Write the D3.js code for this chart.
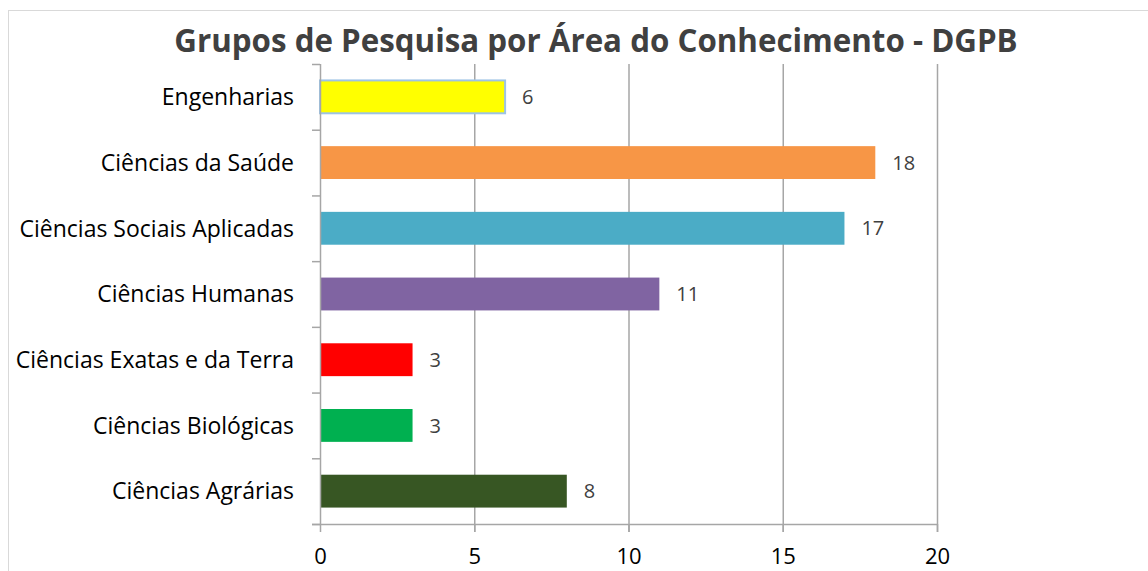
<!DOCTYPE html>
<html>
<head>
<meta charset="utf-8">
<script src="https://cdn.jsdelivr.net/npm/d3@7"></script>
<style>
  body { margin: 0; background: #fff; }
  text { font-family: "Open Sans", sans-serif; }
</style>
</head>
<body>
<div id="chart"></div>
<script>
// data
var categories = [
  "Engenharias",
  "Ciências da Saúde",
  "Ciências Sociais Aplicadas",
  "Ciências Humanas",
  "Ciências Exatas e da Terra",
  "Ciências Biológicas",
  "Ciências Agrárias"
];
var values = [6, 18, 17, 11, 3, 3, 8];
var barColors = ["#ffff00", "#f79646", "#4bacc6", "#8064a2", "#ff0000", "#00b050", "#375623"];
var xTicks = [0, 5, 10, 15, 20];

var width = 1148;
var height = 571;

var svg = d3.select("#chart")
  .append("svg")
  .attr("width", width)
  .attr("height", height);

// chart area border
svg.append("rect")
  .attr("x", 8.5)
  .attr("y", 10.5)
  .attr("width", 1160)
  .attr("height", 600)
  .attr("fill", "none")
  .attr("stroke", "#d9d9d9");

var xScale = d3.scaleLinear().domain([0, 20]).range([320, 937]);
var yScale = d3.scaleBand()
  .domain(categories)
  .range([64, 524])
  .paddingInner(0.5)
  .paddingOuter(0.25);

// gridlines
svg.append("g")
  .selectAll("line")
  .data(xTicks.slice(1))
  .enter()
  .append("line")
  .attr("x1", function (d) { return xScale(d) + 0.5; })
  .attr("x2", function (d) { return xScale(d) + 0.5; })
  .attr("y1", 64)
  .attr("y2", 532)
  .attr("stroke", "#a6a6a6")
  .attr("stroke-width", 1.5);

// bars
var data = categories.map(function (c, i) {
  return { cat: c, val: values[i], color: barColors[i] };
});

svg.append("g")
  .selectAll("rect")
  .data(data)
  .enter()
  .append("rect")
  .attr("x", xScale(0))
  .attr("y", function (d) { return yScale(d.cat); })
  .attr("width", function (d) { return xScale(d.val) - xScale(0); })
  .attr("height", yScale.bandwidth())
  .attr("fill", function (d) { return d.color; })
  .attr("stroke", function (d, i) { return i === 0 ? "#9dc3e6" : "none"; })
  .attr("stroke-width", 2);

// value labels
svg.append("g")
  .selectAll("text")
  .data(data)
  .enter()
  .append("text")
  .attr("x", function (d) { return xScale(d.val) + 17; })
  .attr("y", function (d) { return yScale(d.cat) + yScale.bandwidth() / 2; })
  .attr("dy", "0.36em")
  .attr("font-size", 20)
  .attr("fill", "#404040")
  .text(function (d) { return d.val; });

// x axis
var xAxis = d3.axisBottom(xScale).tickValues(xTicks).tickSize(8).tickPadding(16);
var gx = svg.append("g")
  .attr("transform", "translate(0,524)")
  .call(xAxis);
gx.select(".domain").attr("d", "M312,0.5H" + xScale(20)).attr("stroke", "#a6a6a6").attr("stroke-width", 1.5);
gx.selectAll(".tick line").attr("stroke", "#a6a6a6").attr("stroke-width", 1.5);
gx.selectAll(".tick text")
  .attr("font-size", 22)
  .attr("fill", "#000")
  .style("font-family", "'Open Sans', sans-serif");

// y axis ticks at band boundaries
var boundaries = d3.range(categories.length + 1).map(function (i) {
  return 64 + i * (460 / categories.length);
});
svg.append("line")
  .attr("x1", 320.5).attr("x2", 320.5)
  .attr("y1", 64).attr("y2", 524)
  .attr("stroke", "#a6a6a6").attr("stroke-width", 1.5);
svg.append("g")
  .selectAll("line")
  .data(boundaries)
  .enter()
  .append("line")
  .attr("x1", 312).attr("x2", 320)
  .attr("y1", function (d) { return d + 0.5; })
  .attr("y2", function (d) { return d + 0.5; })
  .attr("stroke", "#a6a6a6").attr("stroke-width", 1.5);

// category labels
svg.append("g")
  .selectAll("text")
  .data(categories)
  .enter()
  .append("text")
  .attr("x", 294)
  .attr("y", function (d) { return yScale(d) + yScale.bandwidth() / 2; })
  .attr("dy", "0.36em")
  .attr("text-anchor", "end")
  .attr("font-size", 23)
  .attr("fill", "#000")
  .text(function (d) { return d; });

// title
svg.append("text")
  .attr("x", 596)
  .attr("y", 52)
  .attr("text-anchor", "middle")
  .attr("font-size", 31.3)
  .attr("font-weight", "bold")
  .attr("fill", "#404040")
  .text("Grupos de Pesquisa por Área do Conhecimento - DGPB");
</script>
</body>
</html>
